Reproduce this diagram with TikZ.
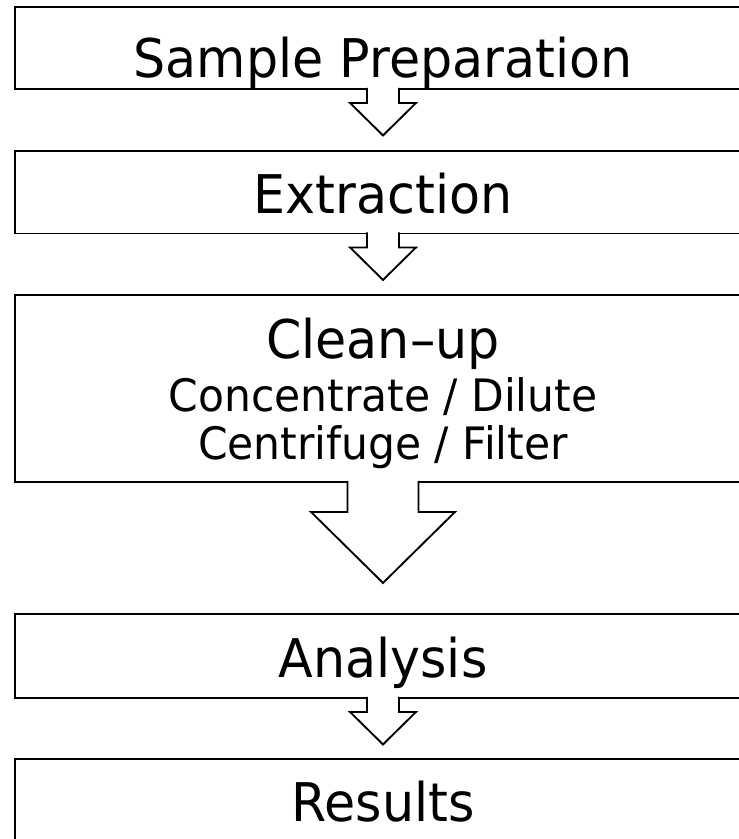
\documentclass[tikz,border=0pt]{standalone}
\usepackage{fontspec}
\setmainfont{DejaVu Sans}[FakeStretch=0.95]

\tikzset{every picture/.style={line width=1.4pt}}
\tikzset{
  stagebox/.style={draw, inner sep=0pt, minimum width=736*0.75pt},
  titletext/.style={anchor=base, inner sep=0pt, font=\fontsize{40}{48}\selectfont},
  subtext/.style={anchor=base, inner sep=0pt, font=\fontsize{33.5}{40}\selectfont},
  flowarrow/.style={draw, fill=white, line join=miter}
}

\begin{document}
\begin{tikzpicture}[x=0.75pt,y=-0.75pt]
		\useasboundingbox (0,0) rectangle (739,839);
		\clip (0,0) rectangle (739,839);

		%Shape: Rectangle [id:prep]
		\node [stagebox, minimum height=82*0.75pt] (prep) at (383,48) {};
		%Shape: Rectangle [id:extr]
		\node [stagebox, minimum height=82.5*0.75pt] (extr) at (383,192.25) {};
		%Shape: Rectangle [id:clean]
		\node [stagebox, minimum height=187*0.75pt] (clean) at (383,388.5) {};
		%Shape: Rectangle [id:anal]
		\node [stagebox, minimum height=84*0.75pt] (anal) at (383,656) {};
		%Shape: Rectangle [id:res]
		\node [stagebox, minimum height=100*0.75pt] (res) at (383,809) {};

		%Block Arrows
		\foreach \b in {prep,extr,anal}
		  \filldraw [flowarrow] ([shift={(-16,-2)}]\b.south) -- ++(0,15) -- ++(-17,0) -- ++(33,32.5) -- ++(33,-32.5) -- ++(-17,0) -- ++(0,-15);
		%Block Arrow (large)
		\filldraw [flowarrow] ([shift={(-35.5,-2)}]clean.south) -- ++(0,31) -- ++(-36.5,0) -- ++(72,71) -- ++(72,-71) -- ++(-36.5,0) -- ++(0,-31);

		% Text Node
		\node [titletext] (preplabel) at (383,77) {Sample Preparation};
		% Text Node
		\node [titletext] (extrlabel) at (383,213) {Extraction};
		% Text Node
		\node [titletext] (cleanlabel) at (383,358) {Clean–up};
		% Text Node
		\node [subtext] (concdil) at (383,411.5) {Concentrate / Dilute};
		% Text Node
		\node [subtext] (centfilt) at (383,459.5) {Centrifuge / Filter};
		% Text Node
		\node [titletext] (anallabel) at (383,677) {Analysis};
		% Text Node
		\node [titletext] (reslabel) at (383,821.5) {Results};
\end{tikzpicture}
\end{document}
